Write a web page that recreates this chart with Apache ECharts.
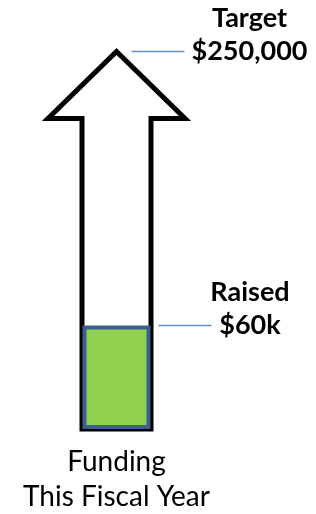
<!DOCTYPE html>
<html>
<head>
<meta charset="utf-8">
<script src="https://cdn.jsdelivr.net/npm/echarts@6/dist/echarts.min.js"></script>
<style>
  html, body { margin: 0; padding: 0; background: #fff; }
  #chart { width: 316px; height: 514px; }
</style>
</head>
<body>
<div id="chart"></div>
<script>
// data
const categories = ["Funding\nThis Fiscal Year"];
const targetValues = [250000];
const raisedValues = [60000];
const targetLabels = ["Target", "$250,000"];
const raisedLabels = ["Raised", "$60k"];

const FONT = "Lato";

var dom = document.getElementById("chart");
var myChart = echarts.init(dom);

// arrow outline drawn from axis coords (tip at target, base at 0)
function renderArrow(params, api) {
  const tip = api.coord([api.value(0), api.value(1)]);
  const base = api.coord([api.value(0), 0]);
  const cx = tip[0];
  const headHalf = 68.5;
  const headH = 67;
  const shaftHalf = 34.5;
  const headY = tip[1] + headH;
  return {
    type: "group",
    children: [
      {
        type: "polygon",
        shape: {
          points: [
            [cx, tip[1]],
            [cx + headHalf, headY],
            [cx + shaftHalf, headY],
            [cx + shaftHalf, base[1]],
            [cx - shaftHalf, base[1]],
            [cx - shaftHalf, headY],
            [cx - headHalf, headY],
          ],
        },
        style: { fill: "#fff", stroke: "#000", lineWidth: 5, lineJoin: "miter" },
      },
    ],
  };
}

// leader line + two-line bold label
function makeCallout(lines, startOffset, textOffset) {
  return function (params, api) {
    const p = api.coord([api.value(0), api.value(1)]);
    const x0 = p[0] + startOffset;
    const x1 = x0 + 53;
    const tx = x1 + textOffset;
    const font = "bold 27px " + FONT;
    return {
      type: "group",
      children: [
        {
          type: "line",
          shape: { x1: x0, y1: p[1], x2: x1, y2: p[1] },
          style: { stroke: "#5b8fd0", lineWidth: 1.5 },
        },
        {
          type: "text",
          style: {
            text: lines[0], x: tx, y: p[1] - 33,
            font: font, fill: "#000",
            align: "center", verticalAlign: "middle",
          },
        },
        {
          type: "text",
          style: {
            text: lines[1], x: tx, y: p[1],
            font: font, fill: "#000",
            align: "center", verticalAlign: "middle",
          },
        },
      ],
    };
  };
}

const option = {
  animation: false,
  grid: { left: 47, width: 139, top: 51.5, bottom: 85 },
  xAxis: {
    type: "category",
    data: categories,
    axisLine: { show: false },
    axisTick: { show: false },
    axisLabel: {
      margin: 15,
      fontFamily: FONT,
      fontSize: 28,
      lineHeight: 35,
      color: "#000",
    },
  },
  yAxis: [
    { type: "value", min: 0, max: 250000, show: false },
    { type: "value", min: 0, max: 219000, show: false },
  ],
  series: [
    {
      type: "custom",
      yAxisIndex: 0,
      z: 1,
      renderItem: renderArrow,
      data: targetValues.map((v, i) => [i, v]),
    },
    {
      type: "bar",
      yAxisIndex: 1,
      z: 2,
      barWidth: 68,
      data: raisedValues,
      itemStyle: { color: "#92d050", borderColor: "#3b5f8f", borderWidth: 4 },
    },
    {
      type: "custom",
      yAxisIndex: 0,
      z: 3,
      renderItem: makeCallout(targetLabels, 15, 65),
      data: targetValues.map((v, i) => [i, v]),
    },
    {
      type: "custom",
      yAxisIndex: 1,
      z: 3,
      renderItem: makeCallout(raisedLabels, 42, 38.5),
      data: raisedValues.map((v, i) => [i, v]),
    },
  ],
};

myChart.setOption(option);
</script>
</body>
</html>
